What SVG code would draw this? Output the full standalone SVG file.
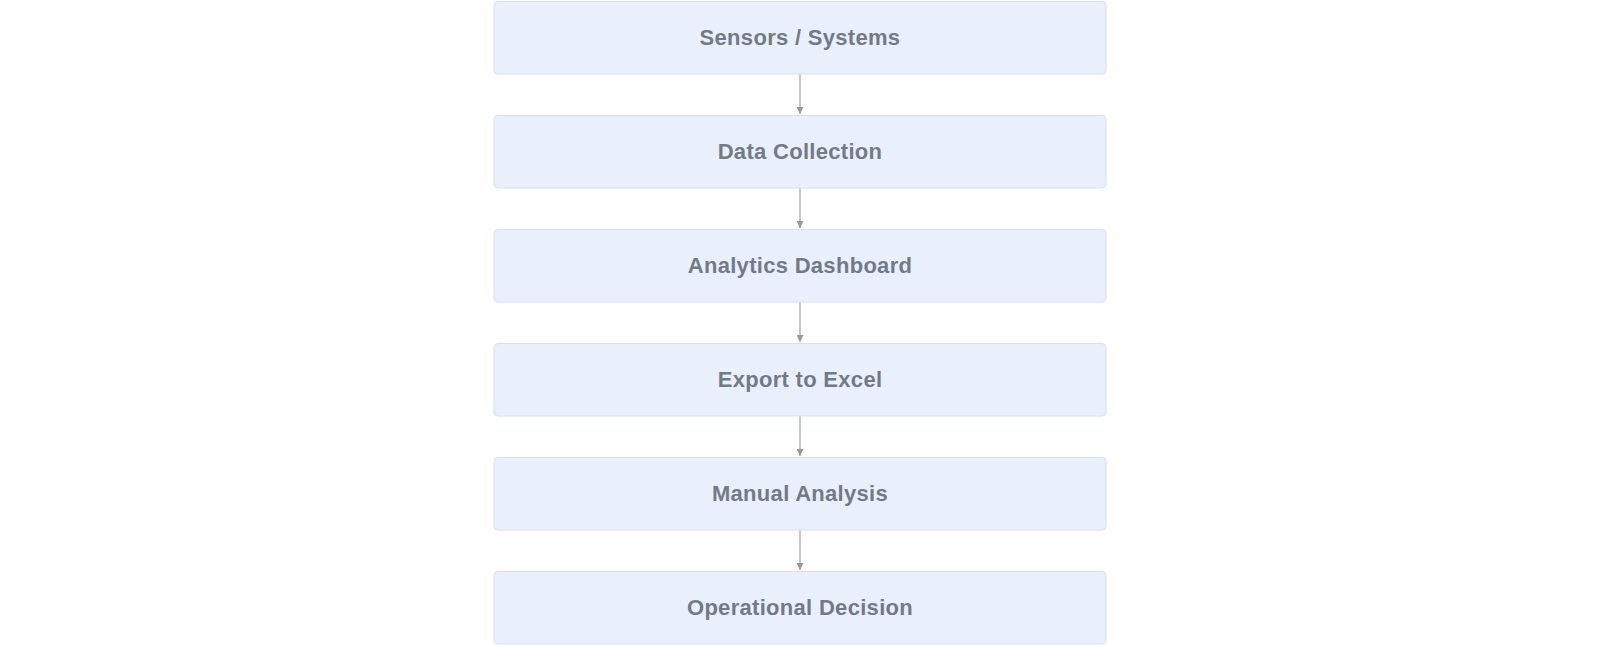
<svg xmlns="http://www.w3.org/2000/svg" width="1600" height="645" viewBox="0 0 1600 645">
<style>
.box{fill:#e9f0fb;stroke:#d3e0f4;stroke-width:1}
.lbl{font-family:"Liberation Sans",Arial,sans-serif;font-weight:bold;font-size:22px;fill:#737a87;text-anchor:middle;letter-spacing:0.3px}
.edge{stroke:#aaaaaa;stroke-width:1.3;fill:none}
</style>
<defs>
<marker id="arr" viewBox="0 0 10 10" refX="10" refY="5" markerWidth="7" markerHeight="7" markerUnits="userSpaceOnUse" orient="auto">
<path d="M0,0 L10,5 L0,10 z" fill="#999999"/>
</marker>
</defs>
<rect width="1600" height="645" fill="#ffffff"/>
<g id="connectors">
<line class="edge" x1="800" y1="74" x2="800" y2="114" marker-end="url(#arr)"/>
<line class="edge" x1="800" y1="188" x2="800" y2="228" marker-end="url(#arr)"/>
<line class="edge" x1="800" y1="302" x2="800" y2="342" marker-end="url(#arr)"/>
<line class="edge" x1="800" y1="416" x2="800" y2="456" marker-end="url(#arr)"/>
<line class="edge" x1="800" y1="530" x2="800" y2="570" marker-end="url(#arr)"/>
</g>
<g id="n1"><rect class="box" x="494" y="1.5" width="612" height="72.5" rx="4"/><text class="lbl" x="800" y="44.5">Sensors / Systems</text></g>
<g id="n2"><rect class="box" x="494" y="115.5" width="612" height="72.5" rx="4"/><text class="lbl" x="800" y="158.5">Data Collection</text></g>
<g id="n3"><rect class="box" x="494" y="229.5" width="612" height="72.5" rx="4"/><text class="lbl" x="800" y="272.5">Analytics Dashboard</text></g>
<g id="n4"><rect class="box" x="494" y="343.5" width="612" height="72.5" rx="4"/><text class="lbl" x="800" y="386.5">Export to Excel</text></g>
<g id="n5"><rect class="box" x="494" y="457.5" width="612" height="72.5" rx="4"/><text class="lbl" x="800" y="500.5">Manual Analysis</text></g>
<g id="n6"><rect class="box" x="494" y="571.5" width="612" height="72.5" rx="4"/><text class="lbl" x="800" y="614.5">Operational Decision</text></g>
</svg>
